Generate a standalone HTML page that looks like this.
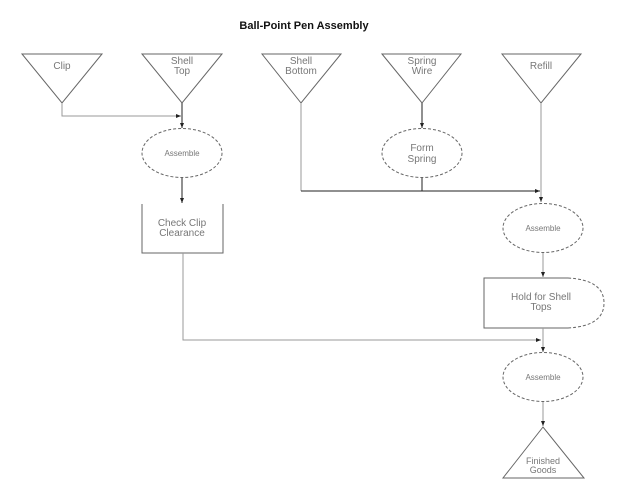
<!DOCTYPE html>
<html><head><style>body{margin:0;background:#fff}svg{display:block}text{font-family:"Liberation Sans",sans-serif;fill:#777;font-size:10px;text-anchor:middle}</style></head><body>
<svg width="638" height="479" viewBox="0 0 638 479">
<defs><marker id="a" markerWidth="6" markerHeight="6" refX="5" refY="3" orient="auto"><path d="M0,1 L5,3 L0,5z" fill="#222"/></marker></defs>
<text x="304" y="29" style="font-size:11px;font-weight:bold;fill:#111">Ball-Point Pen Assembly</text>
<g fill="none" stroke="#666" stroke-width="1">
<path d="M22,54 L102,54 L62,103z"/>
<path d="M142,54 L222,54 L182,103z"/>
<path d="M262,54 L341,54 L301,103z"/>
<path d="M382,54 L461,54 L422,103z"/>
<path d="M502,54 L581,54 L541,103z"/>
<ellipse cx="182" cy="153" rx="40" ry="24.5" stroke-dasharray="3,2"/>
<ellipse cx="422" cy="153" rx="40" ry="24.5" stroke-dasharray="3,2"/>
<ellipse cx="543" cy="228" rx="40" ry="24.5" stroke-dasharray="3,2"/>
<ellipse cx="543" cy="377" rx="40" ry="24.5" stroke-dasharray="3,2"/>
<path d="M142,204 L142,253 L223,253 L223,204"/>
<path d="M568,278 L484,278 L484,328 L568,328" />
<path d="M568,278 Q604,280 604,303 Q604,326 568,328" stroke-dasharray="3,2"/>
<path d="M543,427 L503,478 L584,478z"/>
</g>
<g fill="none" stroke="#999" stroke-width="1">
<path d="M62,103 V116 H181" marker-end="url(#a)"/>
<path d="M183,253 V340 H541" marker-end="url(#a)"/>
<path d="M541,103 V202" marker-end="url(#a)"/>
<path d="M543,253 V277" marker-end="url(#a)"/>
<path d="M543,328 V352" marker-end="url(#a)"/>
<path d="M543,402 V426" marker-end="url(#a)"/>
<path d="M301,103 V191"/>
</g>
<g fill="none" stroke="#222" stroke-width="1">
<path d="M182,103 V128" marker-end="url(#a)"/>
<path d="M182,178 V203" marker-end="url(#a)"/>
<path d="M422,103 V128" marker-end="url(#a)"/>
<path d="M422,178 V191"/>
<path d="M301,191 H540" marker-end="url(#a)"/>
</g>
<text x="62" y="69">Clip</text>
<text x="182" y="64">Shell</text><text x="182" y="74">Top</text>
<text x="301" y="64">Shell</text><text x="301" y="74">Bottom</text>
<text x="422" y="64">Spring</text><text x="422" y="74">Wire</text>
<text x="541" y="69">Refill</text>
<text x="182" y="156" style="font-size:8px">Assemble</text>
<text x="422" y="151">Form</text><text x="422" y="162">Spring</text>
<text x="182" y="226">Check Clip</text><text x="182" y="236">Clearance</text>
<text x="543" y="231" style="font-size:8px">Assemble</text>
<text x="541" y="300">Hold for Shell</text><text x="541" y="310">Tops</text>
<text x="543" y="380" style="font-size:8px">Assemble</text>
<text x="543" y="464" style="font-size:9px">Finished</text><text x="543" y="473" style="font-size:9px">Goods</text>
</svg>
</body></html>
